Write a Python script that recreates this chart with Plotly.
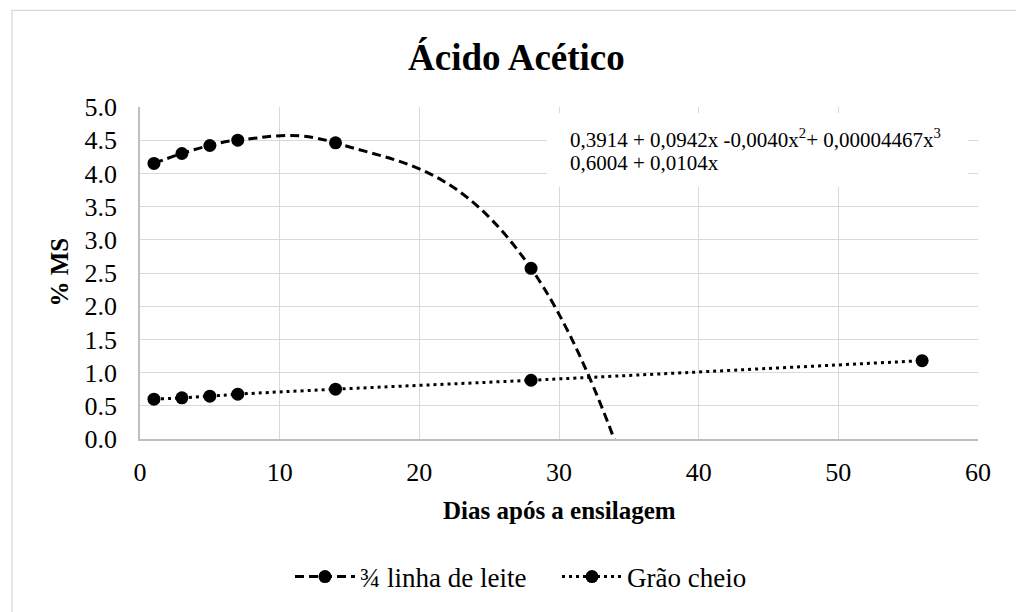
import plotly.graph_objects as go

dias = [1, 3, 5, 7, 14, 28, 56]
leite_34 = [4.15, 4.30, 4.42, 4.50, 4.46, 2.57, -24.0]
grao_cheio = [0.60, 0.62, 0.645, 0.675, 0.75, 0.885, 1.18]
nome_leite = "¾ linha de leite"
nome_grao = "Grão cheio"
titulo = "Ácido Acético"
titulo_x = "Dias após a ensilagem"
titulo_y = "% MS"
eq1 = "0,3914 + 0,0942x -0,0040x<sup>2</sup>+ 0,00004467x<sup>3</sup>"
eq2 = "0,6004 + 0,0104x"

FONT = "Liberation Serif, Times New Roman, serif"

fig = go.Figure()
fig.add_trace(go.Scatter(
    x=dias, y=leite_34, name=nome_leite, mode="lines+markers",
    line=dict(color="black", width=3, dash="9px,5px", shape="spline", smoothing=1.2),
    marker=dict(color="black", size=13), cliponaxis=True))
fig.add_trace(go.Scatter(
    x=dias, y=grao_cheio, name=nome_grao, mode="lines+markers",
    line=dict(color="black", width=3, dash="3px,4px", shape="spline", smoothing=1),
    marker=dict(color="black", size=13), cliponaxis=True))

L, R, T, B = 140, 38, 107, 172
W, H = 1016, 612
pw, ph = W - L - R, H - T - B

def px(xpix):
    return (xpix - L) / pw

def py(ypix):
    return (H - B - ypix) / ph

fig.update_layout(
    width=W, height=H,
    margin=dict(l=L, r=R, t=T, b=B, pad=0),
    paper_bgcolor="white", plot_bgcolor="white",
    font=dict(family=FONT, color="black", size=26),
    showlegend=True,
    legend=dict(orientation="h", x=px(290), xanchor="left", y=py(577), yanchor="middle",
                font=dict(family=FONT, size=27), itemwidth=60, entrywidth=192,
                entrywidthmode="pixels", bgcolor="rgba(0,0,0,0)"),
    xaxis=dict(range=[0, 60], dtick=10, tick0=0, showgrid=True, gridcolor="#d9d9d9", gridwidth=1,
               showline=True, linecolor="#bfbfbf", linewidth=1.5, zeroline=False, ticks="",
               tickfont=dict(family=FONT, size=26), ticklabelstandoff=9),
    yaxis=dict(range=[0, 5], dtick=0.5, tick0=0, tickformat=".1f", showgrid=True,
               gridcolor="#d9d9d9", gridwidth=1, showline=True, linecolor="#bfbfbf", linewidth=1.5,
               zeroline=False, ticks="", tickfont=dict(family=FONT, size=26), ticklabelstandoff=16),
)

# white box behind the equations
fig.add_shape(type="rect", xref="x", yref="y", x0=(547 - L) / pw * 60, x1=(968 - L) / pw * 60,
              y0=(H - B - 187) / ph * 5, y1=(H - B - 113) / ph * 5,
              fillcolor="white", line=dict(width=0), layer="between")

# outer chart border
fig.add_shape(type="rect", xref="paper", yref="paper", x0=px(12), x1=px(1200), y0=py(800), y1=py(10),
              line=dict(color="#d9d9d9", width=1.3), fillcolor="rgba(0,0,0,0)", layer="below")

fig.add_annotation(text=f"<b>{titulo}</b>", xref="paper", yref="paper", x=px(516), y=py(57),
                   xanchor="center", yanchor="middle", showarrow=False,
                   font=dict(family=FONT, size=37, color="black"))
fig.add_annotation(text=f"<b>{titulo_x}</b>", xref="paper", yref="paper", x=px(559), y=py(512),
                   xanchor="center", yanchor="middle", showarrow=False,
                   font=dict(family=FONT, size=25, color="black"))
fig.add_annotation(text=f"<b>{titulo_y}</b>", xref="paper", yref="paper", x=px(60), y=py(273),
                   xanchor="center", yanchor="middle", showarrow=False, textangle=-90,
                   font=dict(family=FONT, size=25, color="black"))
fig.add_annotation(text=eq1, xref="paper", yref="paper", x=px(568), y=py(139),
                   xanchor="left", yanchor="middle", align="left", showarrow=False,
                   font=dict(family=FONT, size=21, color="black"))
fig.add_annotation(text=eq2, xref="paper", yref="paper", x=px(568), y=py(163),
                   xanchor="left", yanchor="middle", align="left", showarrow=False,
                   font=dict(family=FONT, size=21, color="black"))

fig.write_html("out.html")
